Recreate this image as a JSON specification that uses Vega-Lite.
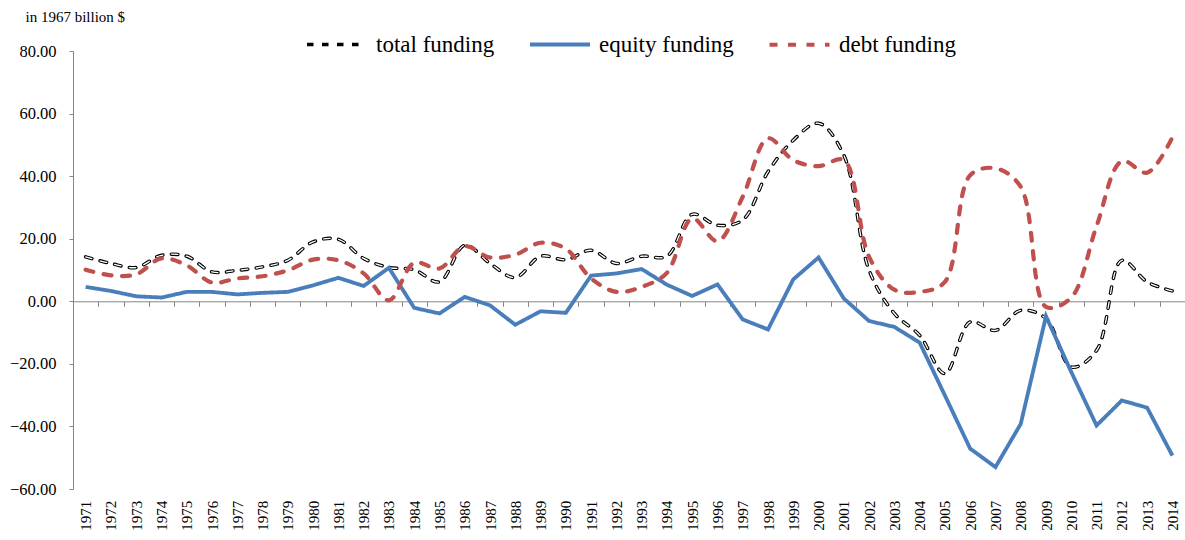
{
  "$schema": "https://vega.github.io/schema/vega-lite/v6.json",
  "width": 1112,
  "height": 438,
  "autosize": {"type": "none"},
  "padding": {"left": 73, "top": 51, "right": 0, "bottom": 51},
  "background": "white",
  "config": {
    "view": {"stroke": null},
    "font": "Liberation Serif",
    "style": {"guide-label": {"font": "Liberation Serif"}},
    "legend": {"labelFont": "Liberation Serif", "labelFontSize": 23, "labelColor": "black"}
  },
  "data": {"values": [
    {"year": 1971, "total funding": 14.2, "equity funding": 4.6, "debt funding": 10.1},
    {"year": 1972, "total funding": 12.1, "equity funding": 3.3, "debt funding": 8.3},
    {"year": 1973, "total funding": 10.8, "equity funding": 1.6, "debt funding": 8.6},
    {"year": 1974, "total funding": 14.7, "equity funding": 1.2, "debt funding": 13.7},
    {"year": 1975, "total funding": 14.4, "equity funding": 3.0, "debt funding": 11.5},
    {"year": 1976, "total funding": 9.4, "equity funding": 3.0, "debt funding": 6.0},
    {"year": 1977, "total funding": 9.9, "equity funding": 2.2, "debt funding": 7.3},
    {"year": 1978, "total funding": 11.0, "equity funding": 2.7, "debt funding": 8.0},
    {"year": 1979, "total funding": 13.1, "equity funding": 3.0, "debt funding": 9.9},
    {"year": 1980, "total funding": 19.0, "equity funding": 5.1, "debt funding": 13.3},
    {"year": 1981, "total funding": 19.8, "equity funding": 7.5, "debt funding": 13.1},
    {"year": 1982, "total funding": 13.7, "equity funding": 4.9, "debt funding": 8.9},
    {"year": 1983, "total funding": 10.8, "equity funding": 10.7, "debt funding": 0.3},
    {"year": 1984, "total funding": 10.1, "equity funding": -2.1, "debt funding": 12.3},
    {"year": 1985, "total funding": 6.2, "equity funding": -3.9, "debt funding": 10.5},
    {"year": 1986, "total funding": 17.9, "equity funding": 1.4, "debt funding": 17.6},
    {"year": 1987, "total funding": 12.1, "equity funding": -1.3, "debt funding": 14.0},
    {"year": 1988, "total funding": 7.6, "equity funding": -7.5, "debt funding": 14.9},
    {"year": 1989, "total funding": 14.4, "equity funding": -3.2, "debt funding": 18.7},
    {"year": 1990, "total funding": 13.3, "equity funding": -3.7, "debt funding": 16.8},
    {"year": 1991, "total funding": 16.3, "equity funding": 8.2, "debt funding": 7.3},
    {"year": 1992, "total funding": 12.1, "equity funding": 8.9, "debt funding": 3.0},
    {"year": 1993, "total funding": 14.4, "equity funding": 10.3, "debt funding": 4.6},
    {"year": 1994, "total funding": 14.4, "equity funding": 5.3, "debt funding": 9.1},
    {"year": 1995, "total funding": 27.8, "equity funding": 1.7, "debt funding": 26.5},
    {"year": 1996, "total funding": 24.3, "equity funding": 5.4, "debt funding": 19.2},
    {"year": 1997, "total funding": 26.0, "equity funding": -5.8, "debt funding": 33.4},
    {"year": 1998, "total funding": 41.4, "equity funding": -9.0, "debt funding": 52.1},
    {"year": 1999, "total funding": 51.5, "equity funding": 7.0, "debt funding": 45.1},
    {"year": 2000, "total funding": 56.9, "equity funding": 14.0, "debt funding": 43.2},
    {"year": 2001, "total funding": 46.7, "equity funding": 0.9, "debt funding": 45.1},
    {"year": 2002, "total funding": 9.9, "equity funding": -6.3, "debt funding": 14.2},
    {"year": 2003, "total funding": -3.9, "equity funding": -8.2, "debt funding": 3.7},
    {"year": 2004, "total funding": -10.9, "equity funding": -13.2, "debt funding": 3.0},
    {"year": 2005, "total funding": -23.1, "equity funding": -30.1, "debt funding": 6.2},
    {"year": 2006, "total funding": -6.6, "equity funding": -47.1, "debt funding": 40.3},
    {"year": 2007, "total funding": -9.3, "equity funding": -53.0, "debt funding": 42.5},
    {"year": 2008, "total funding": -2.9, "equity funding": -39.2, "debt funding": 36.6},
    {"year": 2009, "total funding": -5.5, "equity funding": -4.8, "debt funding": -1.8},
    {"year": 2010, "total funding": -21.0, "equity funding": -22.6, "debt funding": 1.2},
    {"year": 2011, "total funding": -15.7, "equity funding": -39.7, "debt funding": 24.0},
    {"year": 2012, "total funding": 13.1, "equity funding": -31.7, "debt funding": 44.8},
    {"year": 2013, "total funding": 6.2, "equity funding": -34.0, "debt funding": 41.1},
    {"year": 2014, "total funding": 3.3, "equity funding": -49.3, "debt funding": 52.4}
  ]},
  "transform": [{"fold": ["total funding", "equity funding", "debt funding"], "as": ["series", "value"]}],
  "encoding": {
    "x": {
      "field": "year", "type": "quantitative",
      "scale": {"domain": [1970.5, 2014.5], "nice": false, "zero": false},
      "axis": {
        "title": null,
        "values": [1971,1972,1973,1974,1975,1976,1977,1978,1979,1980,1981,1982,1983,1984,1985,1986,1987,1988,1989,1990,1991,1992,1993,1994,1995,1996,1997,1998,1999,2000,2001,2002,2003,2004,2005,2006,2007,2008,2009,2010,2011,2012,2013,2014],
        "format": "d",
        "labelAngle": 270,
        "labelFont": "Liberation Serif",
        "labelFontSize": 15,
        "labelColor": "black",
        "labelOverlap": false,
        "labelFlush": false,
        "labelBound": false,
        "offset": -187.7,
        "labelPadding": 194,
        "tickOffset": -12.636,
        "labelOffset": 12.636,
        "tickSize": 5,
        "tickColor": "#868686",
        "domainColor": "#868686",
        "grid": false
      }
    },
    "y": {
      "field": "value", "type": "quantitative",
      "scale": {"domain": [-60, 80], "nice": false, "zero": false},
      "axis": {
        "title": "in 1967 billion $",
        "titleAngle": 0,
        "titleX": -48,
        "titleY": -35,
        "titleAlign": "left",
        "titleBaseline": "middle",
        "titleFont": "Liberation Serif",
        "titleFontSize": 15,
        "titleFontWeight": "normal",
        "titleColor": "black",
        "values": [-60, -40, -20, 0, 20, 40, 60, 80],
        "format": ".2f",
        "labelFont": "Liberation Serif",
        "labelFontSize": 16.5,
        "labelColor": "black",
        "labelPadding": 13,
        "tickSize": 4,
        "tickColor": "#868686",
        "domainColor": "#868686",
        "grid": false
      }
    },
    "color": {
      "field": "series", "type": "nominal",
      "scale": {"domain": ["total funding", "equity funding", "debt funding"], "range": ["#000000", "#4A7EBB", "#C0504D"]},
      "legend": {
        "orient": "none", "legendX": 232, "legendY": -39, "direction": "horizontal",
        "title": null, "labelFont": "Liberation Serif", "labelFontSize": 23, "labelColor": "black",
        "symbolType": "stroke", "symbolSize": 3600, "columnPadding": 27, "labelOffset": 7
      }
    },
    "strokeDash": {
      "field": "series", "type": "nominal",
      "scale": {"domain": ["total funding", "equity funding", "debt funding"], "range": [[6.5, 8.5], [1, 0], [8, 10.5]]},
      "legend": {
        "orient": "none", "legendX": 232, "legendY": -39, "direction": "horizontal",
        "title": null, "labelFont": "Liberation Serif", "labelFontSize": 23, "labelColor": "black",
        "symbolType": "stroke", "symbolSize": 3600, "columnPadding": 27, "labelOffset": 7
      }
    },
    "strokeWidth": {
      "field": "series", "type": "ordinal",
      "scale": {"domain": ["total funding", "equity funding", "debt funding"], "range": [3.5, 4.2, 4.5]},
      "legend": {
        "orient": "none", "legendX": 232, "legendY": -39, "direction": "horizontal",
        "title": null, "labelFont": "Liberation Serif", "labelFontSize": 23, "labelColor": "black",
        "symbolType": "stroke", "symbolSize": 3600, "columnPadding": 27, "labelOffset": 7
      }
    }
  },
  "layer": [
    {
      "transform": [{"filter": {"field": "series", "equal": "total funding"}}],
      "mark": {"type": "line", "interpolate": "catmull-rom", "strokeCap": "round"}
    },
    {
      "transform": [{"filter": {"field": "series", "equal": "total funding"}}],
      "mark": {"type": "line", "interpolate": "catmull-rom", "strokeCap": "round"},
      "encoding": {
        "color": {"value": "white"},
        "strokeDash": {"value": [6.5, 8.5]},
        "strokeWidth": {"value": 1.3}
      }
    },
    {
      "transform": [{"filter": {"field": "series", "equal": "equity funding"}}],
      "mark": {"type": "line", "interpolate": "linear", "strokeJoin": "miter"}
    },
    {
      "transform": [{"filter": {"field": "series", "equal": "debt funding"}}],
      "mark": {"type": "line", "interpolate": "catmull-rom", "strokeCap": "round"}
    }
  ]
}
